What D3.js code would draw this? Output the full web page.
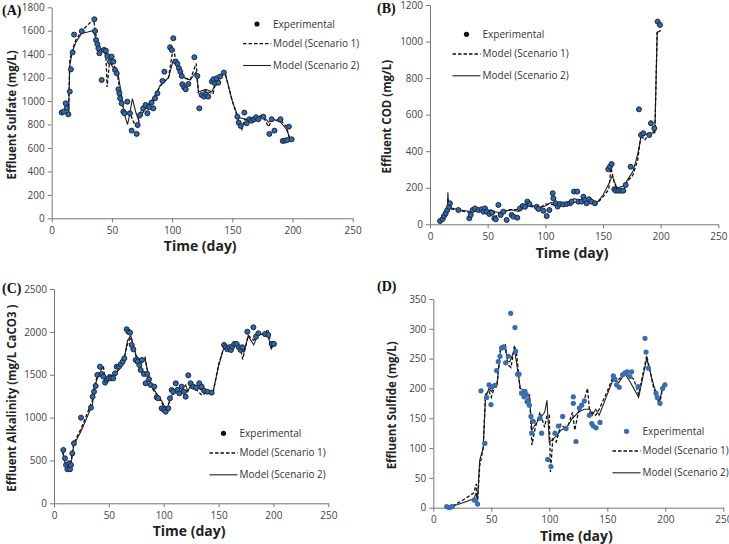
<!DOCTYPE html>
<html>
<head>
<meta charset="utf-8">
<script src="https://cdn.jsdelivr.net/npm/d3@7"></script>
<style>
  body { margin: 0; background: #fff; }
  svg { display: block; }
  .tick text { font-family: "Open Sans", sans-serif; font-size: 10px; fill: #444; }
</style>
</head>
<body>
<div id="chart"></div>
<script>
// ---- data: [day, value] ----
const xTicks = [0, 50, 100, 150, 200, 250];
const legendLabels = ["Experimental", "Model (Scenario 1)", "Model (Scenario 2)"];

const sulfateExp = [[8.3,902],[10,910],[11.6,981],[12.5,940],[13.8,887],[15,1081],[16,1271],[17.4,1416],[18.6,1567],[25,1596],[35.4,1698],[36,1598],[36.8,1521],[38,1485],[38.8,1450],[39.6,1408],[41.5,1180],[43.5,1436],[45,1430],[46.2,1385],[48.4,1337],[49.8,1380],[51.2,1337],[52.6,1266],[54,1237],[55.4,1100],[56.2,1066],[56.8,1024],[58.1,981],[59.5,910],[60.4,896],[62.8,995],[65,896],[66.4,748],[70.6,720],[71.4,796],[73.4,882],[76,938],[78,967],[79.5,896],[81,947],[83,987],[84.4,938],[85.8,1024],[87.8,1066],[92,1172],[93.6,1251],[98.3,1459],[99.7,1436],[101,1536],[103,1337],[104.4,1317],[105.7,1280],[106.8,1251],[108,1214],[108.5,1143],[110,1118],[111.3,1100],[113.5,1146],[118.5,1374],[121,1214],[122.6,938],[124.6,1052],[126.5,1038],[128.2,1058],[130,1038],[133,1166],[134.3,1186],[135.6,1152],[137,1194],[138.4,1157],[139.8,1209],[143,1243],[154.2,867],[155.3,816],[157,788],[160,902],[162,811],[164.2,845],[166.1,833],[168,845],[169.7,862],[171.6,845],[175.8,867],[180.8,720],[182.7,845],[185,748],[190,845],[191.9,660],[193.8,663],[195.7,668],[197,782],[199.3,674]];
const sulfateS1 = [[14,900],[15,1350],[17,1430],[20,1520],[25,1600],[30,1650],[35,1700],[36,1590],[40,1450],[45,1400],[46,1120],[48,1330],[52,1300],[55,1200],[58,1000],[60,920],[65,900],[68,820],[71,780],[74,880],[80,960],[85,1010],[90,1130],[97,1200],[101,1460],[104,1300],[110,1200],[115,1180],[120,1320],[122,1050],[128,1090],[134,1060],[136,1150],[140,1220],[144,1240],[150,1000],[155,840],[158,760],[160,840],[165,850],[170,860],[175,880],[180,780],[183,840],[190,840],[195,780],[198,660]];
const sulfateS2 = [[14,890],[15,1300],[17,1420],[20,1500],[25,1580],[30,1590],[34,1600],[36,1560],[40,1450],[45,1420],[50,1300],[55,1240],[58,1050],[60,900],[63,800],[65,900],[67,1020],[70,900],[72,840],[75,940],[80,970],[85,1030],[90,1130],[97,1200],[101,1350],[105,1310],[110,1200],[115,1180],[120,1250],[122,1080],[128,1100],[133,1080],[136,1150],[140,1210],[144,1240],[150,1000],[155,860],[160,850],[165,830],[170,860],[175,880],[180,820],[185,840],[190,820],[195,760],[198,680]];

const codExp = [[8.7,18],[11,29],[12.1,45],[13.6,60],[15,78],[16.5,96],[17.3,115],[24.6,78],[34.1,33],[35.3,51],[37,78],[39,87],[41.9,78],[44.8,82],[46.3,69],[47.7,87],[49.2,69],[51.5,56],[53.5,63],[55.8,33],[57,27],[59.3,106],[61.3,51],[63.6,69],[66.5,24],[70.8,51],[72.3,42],[75.7,36],[78,87],[80.4,100],[82.4,96],[84.4,124],[86.2,111],[92.5,96],[94,84],[98.3,74],[101.2,45],[103.5,78],[106.4,170],[107,142],[109,115],[110.7,97],[112.7,111],[115.6,109],[118.5,111],[121.4,115],[122.8,124],[124.9,179],[127.7,179],[128.6,124],[131.5,124],[133,151],[134.4,133],[135.8,115],[137.9,137],[140,124],[143,115],[154.6,301],[156,315],[157.5,330],[159.8,192],[161,184],[163.3,184],[165.6,184],[167.6,184],[169.7,215],[174,315],[181.2,629],[183,489],[185,498],[190.2,489],[191.6,553],[194.5,525],[197.4,1109],[199.4,1091]];
const codS1 = [[15,50],[15.5,140],[16,100],[18,85],[25,75],[35,65],[40,75],[50,75],[55,80],[57,40],[60,60],[70,80],[77,80],[80,90],[85,100],[90,95],[95,90],[100,110],[105,110],[110,100],[115,105],[120,115],[125,120],[130,120],[135,120],[140,120],[145,115],[150,150],[155,190],[157,310],[160,220],[163,190],[168,190],[172,240],[176,270],[180,350],[183,490],[186,460],[190,490],[195,510],[197,1050],[200,1060]];
const codS2 = [[15,50],[15.5,175],[16,110],[18,90],[25,80],[35,70],[45,80],[50,60],[55,70],[60,65],[70,80],[77,70],[80,90],[85,110],[90,100],[95,90],[100,100],[105,120],[110,110],[115,110],[120,120],[125,140],[130,130],[135,140],[140,130],[145,120],[150,160],[155,220],[158,265],[162,200],[168,210],[172,250],[176,290],[180,380],[183,480],[190,500],[195,500],[197,1050],[200,1060]];

const alkExp = [[8.5,622],[10,525],[11,447],[12.2,397],[13.7,467],[14.6,397],[15.5,447],[16.7,583],[18.2,700],[24.6,999],[33.7,1116],[35.2,1244],[36.5,1302],[38,1369],[39.5,1497],[41.9,1594],[43.4,1509],[45,1478],[46.5,1408],[48,1439],[49.5,1458],[51.9,1458],[54,1458],[55.6,1516],[57.1,1594],[59.2,1594],[60.8,1621],[62.6,1652],[64.1,1691],[66.2,2030],[67.7,2002],[69.3,1991],[70.8,1847],[72.3,1796],[74.4,1672],[76.2,1652],[77.8,1613],[79,1555],[80.2,1672],[82,1509],[83.5,1400],[85,1509],[86.6,1447],[88.1,1380],[91.4,1361],[93.6,1236],[95,1225],[98.1,1108],[100.2,1089],[101.8,1069],[104.2,1108],[105.7,1225],[107.2,1322],[108.7,1302],[111,1400],[112.4,1322],[114.2,1283],[116.3,1361],[118.5,1302],[120,1244],[122.4,1493],[124.5,1400],[127,1361],[129.4,1349],[132.4,1400],[134.6,1361],[136.7,1314],[139.7,1302],[143.7,1291],[155,1847],[156.6,1820],[158.1,1796],[159.6,1820],[161.3,1789],[162.5,1828],[164.3,1859],[166.5,1859],[168.6,1820],[170.1,1789],[171.6,1820],[176.2,2002],[181.7,2053],[184.1,1944],[186.2,1983],[192.3,1975],[195.3,1964],[198.4,1859],[200.5,1859]];
const alkS1 = [[8,600],[10,460],[12,420],[14,420],[16,520],[18,700],[25,880],[35,1200],[37,1380],[40,1500],[45,1600],[47,1380],[50,1480],[55,1490],[60,1580],[64,1700],[67,1860],[70,1940],[72,1860],[75,1700],[80,1640],[83,1700],[87,1420],[90,1330],[95,1240],[98,1180],[100,1130],[103,1120],[107,1240],[112,1320],[115,1280],[120,1300],[125,1350],[130,1320],[135,1260],[140,1300],[145,1290],[150,1620],[155,1820],[160,1840],[165,1840],[170,1800],[172,1680],[177,1960],[182,1900],[186,1960],[192,1980],[195,2030],[198,1820],[200,1850]];
const alkS2 = [[8,600],[10,480],[12,420],[14,410],[16,500],[18,680],[25,850],[35,1150],[37,1350],[40,1480],[45,1500],[47,1440],[50,1500],[55,1490],[60,1580],[64,1680],[67,1900],[70,1960],[72,1850],[75,1720],[80,1660],[83,1680],[87,1450],[90,1350],[95,1250],[98,1200],[100,1150],[103,1100],[107,1250],[112,1350],[115,1300],[120,1380],[122,1300],[125,1400],[130,1350],[135,1320],[140,1300],[145,1300],[150,1600],[155,1830],[160,1820],[165,1850],[170,1820],[173,1760],[177,1950],[182,1850],[186,1970],[192,1970],[195,1960],[198,1800],[200,1850]];

const sulfideExp = [[11.5,2],[13.5,0],[15.2,1],[16.4,2],[35.3,13],[36.5,12],[38.2,6],[41.1,196],[44.5,108],[46,185],[48,206],[49.7,173],[50.3,203],[53.2,205],[54.6,230],[56,245],[57.5,254],[58.9,268],[60.9,269],[62.4,243],[64.7,254],[66.7,326],[70.4,302],[71,262],[72.7,224],[73.9,224],[76.1,192],[78.2,186],[79,195],[80.5,189],[81.3,179],[82.8,172],[84.2,153],[84.8,125],[86.2,145],[92,150],[93.4,125],[98.6,81],[101.4,69],[104.9,125],[107.8,137],[111.5,153],[114.4,133],[120.7,186],[120.7,175],[123,111],[125.9,167],[127.9,172],[130.2,179],[134.5,155],[136.6,141],[137.9,137],[140.3,134],[143.7,143],[155.2,221],[156.6,215],[158,206],[160.3,202],[163.2,223],[165.2,226],[167.2,228],[169.5,220],[171,228],[176.7,203],[182.5,284],[183.4,261],[185.4,234],[192,192],[193.1,185],[195.4,175],[197.7,200],[199.7,206]];
const sulfideS1 = [[12,0],[16,2],[25,12],[35,25],[37,40],[38,5],[40,70],[43,100],[45,190],[48,195],[50,185],[53,205],[55,205],[58,270],[62,275],[64,240],[67,235],[70,272],[72,255],[75,195],[80,175],[83,190],[85,105],[88,135],[92,160],[96,135],[98,155],[100,155],[101,60],[103,115],[106,110],[110,140],[115,130],[120,160],[122,130],[125,160],[130,180],[133,200],[135,155],[137,160],[140,155],[143,165],[150,195],[155,220],[160,215],[165,225],[170,220],[173,215],[177,190],[184,255],[190,200],[195,172],[198,205],[200,205]];
const sulfideS2 = [[12,0],[16,2],[25,8],[35,15],[37,25],[38,10],[40,80],[43,100],[45,185],[48,200],[50,195],[53,205],[55,210],[58,265],[62,270],[64,245],[66,245],[70,265],[72,240],[75,200],[80,195],[83,185],[85,130],[88,140],[92,150],[96,160],[98,180],[100,110],[103,115],[106,120],[110,130],[115,135],[120,150],[125,160],[130,165],[135,165],[137,155],[140,165],[143,155],[150,190],[155,215],[160,210],[165,225],[170,210],[177,185],[184,250],[190,205],[195,178],[198,205],[200,210]];

// ---- panel layout ----
const panels = [
  { tag: "(A)", tagX: 2, tagY: 15, x0: 51.7, x1: 352.7, y0: 218.3, y1: 7.3, yMax: 1800, yStep: 200,
    yLabel: "Effluent Sulfate (mg/L)", yLabelX: 12, xLabelY: 251,
    exp: sulfateExp, s1: sulfateS1, s2: sulfateS2, leg: { x: 243, y: 24 }, dot: "dark" },
  { tag: "(B)", tagX: 377, tagY: 13, x0: 430, x1: 718.3, y0: 224.3, y1: 5, yMax: 1200, yStep: 200,
    yLabel: "Effluent COD (mg/L)", yLabelX: 387, xLabelY: 258,
    exp: codExp, s1: codS1, s2: codS2, leg: { x: 452.5, y: 34.3 }, dot: "dark" },
  { tag: "(C)", tagX: 2, tagY: 293, x0: 54, x1: 328.3, y0: 503.3, y1: 289, yMax: 2500, yStep: 500,
    yLabel: "Effluent Alkalinity (mg/L CaCO3 )", yLabelX: 12, xLabelY: 536,
    exp: alkExp, s1: alkS1, s2: alkS2, leg: { x: 209.5, y: 433.3 }, dot: "dark" },
  { tag: "(D)", tagX: 377, tagY: 291, x0: 433.3, x1: 723.3, y0: 507.7, y1: 299, yMax: 350, yStep: 50,
    yLabel: "Effluent Sulfide (mg/L)", yLabelX: 392, xLabelY: 541,
    exp: sulfideExp, s1: sulfideS1, s2: sulfideS2, leg: { x: 612.5, y: 431.3 }, dot: "blue" }
];

const svg = d3.select("#chart").append("svg")
  .attr("width", 729)
  .attr("height", 544);

panels.forEach(p => {
  const x = d3.scaleLinear().domain([0, 250]).range([p.x0, p.x1]);
  const y = d3.scaleLinear().domain([0, p.yMax]).range([p.y0, p.y1]);
  const g = svg.append("g");

  const xAxis = g.append("g")
    .attr("transform", `translate(0,${p.y0})`)
    .call(d3.axisBottom(x).tickValues(xTicks).tickFormat(d3.format("d")).tickSize(4).tickSizeOuter(0));
  const yAxis = g.append("g")
    .attr("transform", `translate(${p.x0},0)`)
    .call(d3.axisLeft(y).tickValues(d3.range(0, p.yMax + 1, p.yStep)).tickFormat(d3.format("d")).tickSize(4).tickSizeOuter(0));
  [xAxis, yAxis].forEach(a => {
    a.select(".domain").attr("stroke", "#777");
    a.selectAll(".tick line").attr("stroke", "#777");
  });
  xAxis.selectAll(".tick text").attr("dy", "0.85em");

  g.append("text")
    .attr("x", (p.x0 + p.x1) / 2 - 2)
    .attr("y", p.xLabelY)
    .attr("text-anchor", "middle")
    .style("font-family", "'Open Sans', sans-serif")
    .style("font-weight", "bold")
    .style("font-size", "14px")
    .attr("fill", "#222")
    .text("Time (day)");

  g.append("text")
    .attr("transform", `translate(${p.yLabelX + 4},${(p.y0 + p.y1) / 2 + 2}) rotate(-90)`)
    .attr("text-anchor", "middle")
    .style("font-family", "'Open Sans', sans-serif")
    .style("font-weight", "bold")
    .style("font-size", "11.5px")
    .attr("fill", "#222")
    .text(p.yLabel);

  g.append("text")
    .attr("x", p.tagX)
    .attr("y", p.tagY)
    .style("font-family", "'Liberation Serif', serif")
    .style("font-weight", "bold")
    .style("font-size", "14px")
    .attr("fill", "#111")
    .text(p.tag);

  const line = d3.line().x(d => x(d[0])).y(d => y(d[1]));

  g.append("path")
    .datum(p.s2)
    .attr("fill", "none")
    .attr("stroke", "#222")
    .attr("stroke-width", 1.1)
    .attr("d", line);

  g.append("path")
    .datum(p.s1)
    .attr("fill", "none")
    .attr("stroke", "#111")
    .attr("stroke-width", 1.3)
    .attr("stroke-dasharray", "3.5 2")
    .attr("d", line);

  const fill = p.dot === "blue" ? "#3a6db0" : "#3467a8";
  const stroke = p.dot === "blue" ? "none" : "#18283f";
  g.append("g").selectAll("circle")
    .data(p.exp)
    .join("circle")
    .attr("cx", d => x(d[0]))
    .attr("cy", d => y(d[1]))
    .attr("r", p.dot === "blue" ? 2.6 : 2.5)
    .attr("fill", fill)
    .attr("stroke", stroke)
    .attr("stroke-width", 1);

  // legend
  const lg = g.append("g").attr("transform", `translate(${p.leg.x},${p.leg.y})`);
  lg.append("circle")
    .attr("cx", 14).attr("cy", 0).attr("r", 2.6)
    .attr("fill", p.dot === "blue" ? "#3a6db0" : "#111");
  lg.append("line")
    .attr("x1", 0).attr("x2", 28).attr("y1", 19.7).attr("y2", 19.7)
    .attr("stroke", "#111").attr("stroke-width", 1.3).attr("stroke-dasharray", "3.5 2");
  lg.append("line")
    .attr("x1", 0).attr("x2", 28).attr("y1", 41.5).attr("y2", 41.5)
    .attr("stroke", "#222").attr("stroke-width", 1.1);
  lg.selectAll("text.lab")
    .data(legendLabels)
    .join("text")
    .attr("class", "lab")
    .attr("x", 30)
    .attr("y", (d, i) => [0, 19.7, 41.5][i])
    .attr("dy", "0.35em")
    .style("font-family", "'Open Sans', sans-serif")
    .style("font-size", "10px")
    .attr("fill", "#333")
    .text(d => d);
});
</script>
</body>
</html>
